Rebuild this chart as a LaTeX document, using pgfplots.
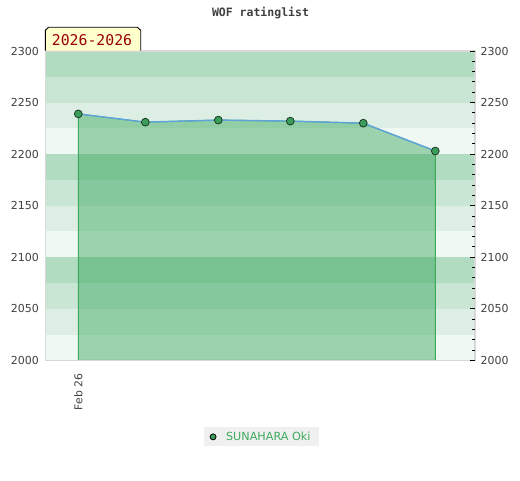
\documentclass[border=0pt]{standalone}
\usepackage{pgfplots}
\pgfplotsset{compat=1.18}
\usepackage{fontspec}
\setmainfont{DejaVu Sans}
\setmonofont{DejaVu Sans Mono}
\definecolor{bandA}{HTML}{F0F8F3}
\definecolor{bandB}{HTML}{DDEFE4}
\definecolor{bandC}{HTML}{C9E6D5}
\definecolor{bandD}{HTML}{B2DCC2}
\definecolor{framegray}{HTML}{D8D8D8}
\definecolor{areagreen}{RGB}{40,160,80}
\definecolor{edgegreen}{HTML}{3AAA5A}
\definecolor{linblue}{HTML}{5FA3DC}
\definecolor{markgreen}{HTML}{3A9E5A}
\definecolor{markdark}{HTML}{1C3A24}
\definecolor{txtgray}{HTML}{404040}
\definecolor{legbg}{HTML}{F0F0F0}
\definecolor{legtxt}{HTML}{3CAA5E}
\definecolor{boxyellow}{HTML}{FFFFCC}
\definecolor{boxred}{HTML}{990000}
\begin{document}
\begin{tikzpicture}[x=1pt,y=1pt]
\path (0,0) rectangle (520,480);
% title
\node[font=\ttfamily\bfseries\fontsize{11.5}{13}\selectfont, text=txtgray] at (260.5,466.5) {WOF ratinglist};
\begin{axis}[
  at={(45.3pt,119.7pt)}, anchor=south west,
  scale only axis, width=429.7pt, height=309.3pt,
  xmin=45.3, xmax=475, ymin=2000, ymax=2300,
  axis on top,
  axis line style={draw=framegray, line width=1.5pt},
  ytick={2000,2050,...,2300},
  major tick length=0pt,
  yticklabel style={font=\fontsize{11}{12}\selectfont, text=txtgray, xshift=-3pt},
  /pgf/number format/.cd, 1000 sep={}, assume math mode=true, /pgfplots/.cd,
  xtick={78.3}, xticklabels={Feb 26},
  xticklabel style={rotate=90, anchor=east, font=\fontsize{10.8}{12}\selectfont, text=txtgray, xshift=-10pt},
  legend style={at={(0.5026,-0.2475)}, anchor=center, fill=legbg, draw=none,
    font=\fontsize{11.2}{12}\selectfont, text=legtxt, inner xsep=6.5pt, inner ysep=2.5pt, column sep=8pt},
  legend cell align=left,
]
% background bands
\fill[bandA] (axis cs:45.3,2000) rectangle (axis cs:475,2025);
\fill[bandB] (axis cs:45.3,2025) rectangle (axis cs:475,2050);
\fill[bandC] (axis cs:45.3,2050) rectangle (axis cs:475,2075);
\fill[bandD] (axis cs:45.3,2075) rectangle (axis cs:475,2100);
\fill[bandA] (axis cs:45.3,2100) rectangle (axis cs:475,2125);
\fill[bandB] (axis cs:45.3,2125) rectangle (axis cs:475,2150);
\fill[bandC] (axis cs:45.3,2150) rectangle (axis cs:475,2175);
\fill[bandD] (axis cs:45.3,2175) rectangle (axis cs:475,2200);
\fill[bandA] (axis cs:45.3,2200) rectangle (axis cs:475,2225);
\fill[bandB] (axis cs:45.3,2225) rectangle (axis cs:475,2250);
\fill[bandC] (axis cs:45.3,2250) rectangle (axis cs:475,2275);
\fill[bandD] (axis cs:45.3,2275) rectangle (axis cs:475,2300);
\addplot[fill=areagreen, fill opacity=0.42, draw=edgegreen, line width=1pt, forget plot] coordinates {
  (78.3,2000) (78.3,2239) (145.3,2231) (218.3,2233) (290.3,2232) (363.3,2230) (435.3,2203) (435.3,2000)
} -- cycle;
\addplot[linblue, line width=1.4pt, forget plot] coordinates {
  (78.3,2239) (145.3,2231) (218.3,2233) (290.3,2232) (363.3,2230) (435.3,2203)
};
\addplot[only marks, mark=*, mark size=3.9pt, mark options={fill=markgreen, draw=markdark, line width=0.8pt}, forget plot] coordinates {
  (78.3,2239) (145.3,2231) (218.3,2233) (290.3,2232) (363.3,2230) (435.3,2203)
};
\addlegendimage{only marks, mark=*, mark size=3pt, mark options={fill=markgreen, draw=black, line width=0.8pt}}
\addlegendentry{SUNAHARA Oki}
\end{axis}
\begin{axis}[
  at={(45.3pt,119.7pt)}, anchor=south west,
  scale only axis, width=429.7pt, height=309.3pt,
  xmin=45.3, xmax=475, ymin=2000, ymax=2300,
  hide x axis,
  axis line style={draw=none},
  ytick={2000,2050,...,2300},
  ytick pos=right, yticklabel pos=right,
  minor y tick num=4,
  tick align=inside,
  major tick length=5pt, minor tick length=3pt,
  every tick/.style={black, line width=0.9pt},
  yticklabel style={font=\fontsize{11}{12}\selectfont, text=txtgray, xshift=2pt},
  /pgf/number format/.cd, 1000 sep={}, assume math mode=true, /pgfplots/.cd,
]
\addplot[draw=none] coordinates {(100,2100)};
\end{axis}
% year box
\draw[fill=boxyellow, line width=0.9pt] (45.3,429.3) -- (45.3,449.7) -- (48.5,452.7) -- (137.5,452.7) -- (140.7,449.7) -- (140.7,429.3);
\node[font=\ttfamily\fontsize{14.8}{16}\selectfont, text=boxred] at (92,440) {2026-2026};
\end{tikzpicture}
\end{document}
